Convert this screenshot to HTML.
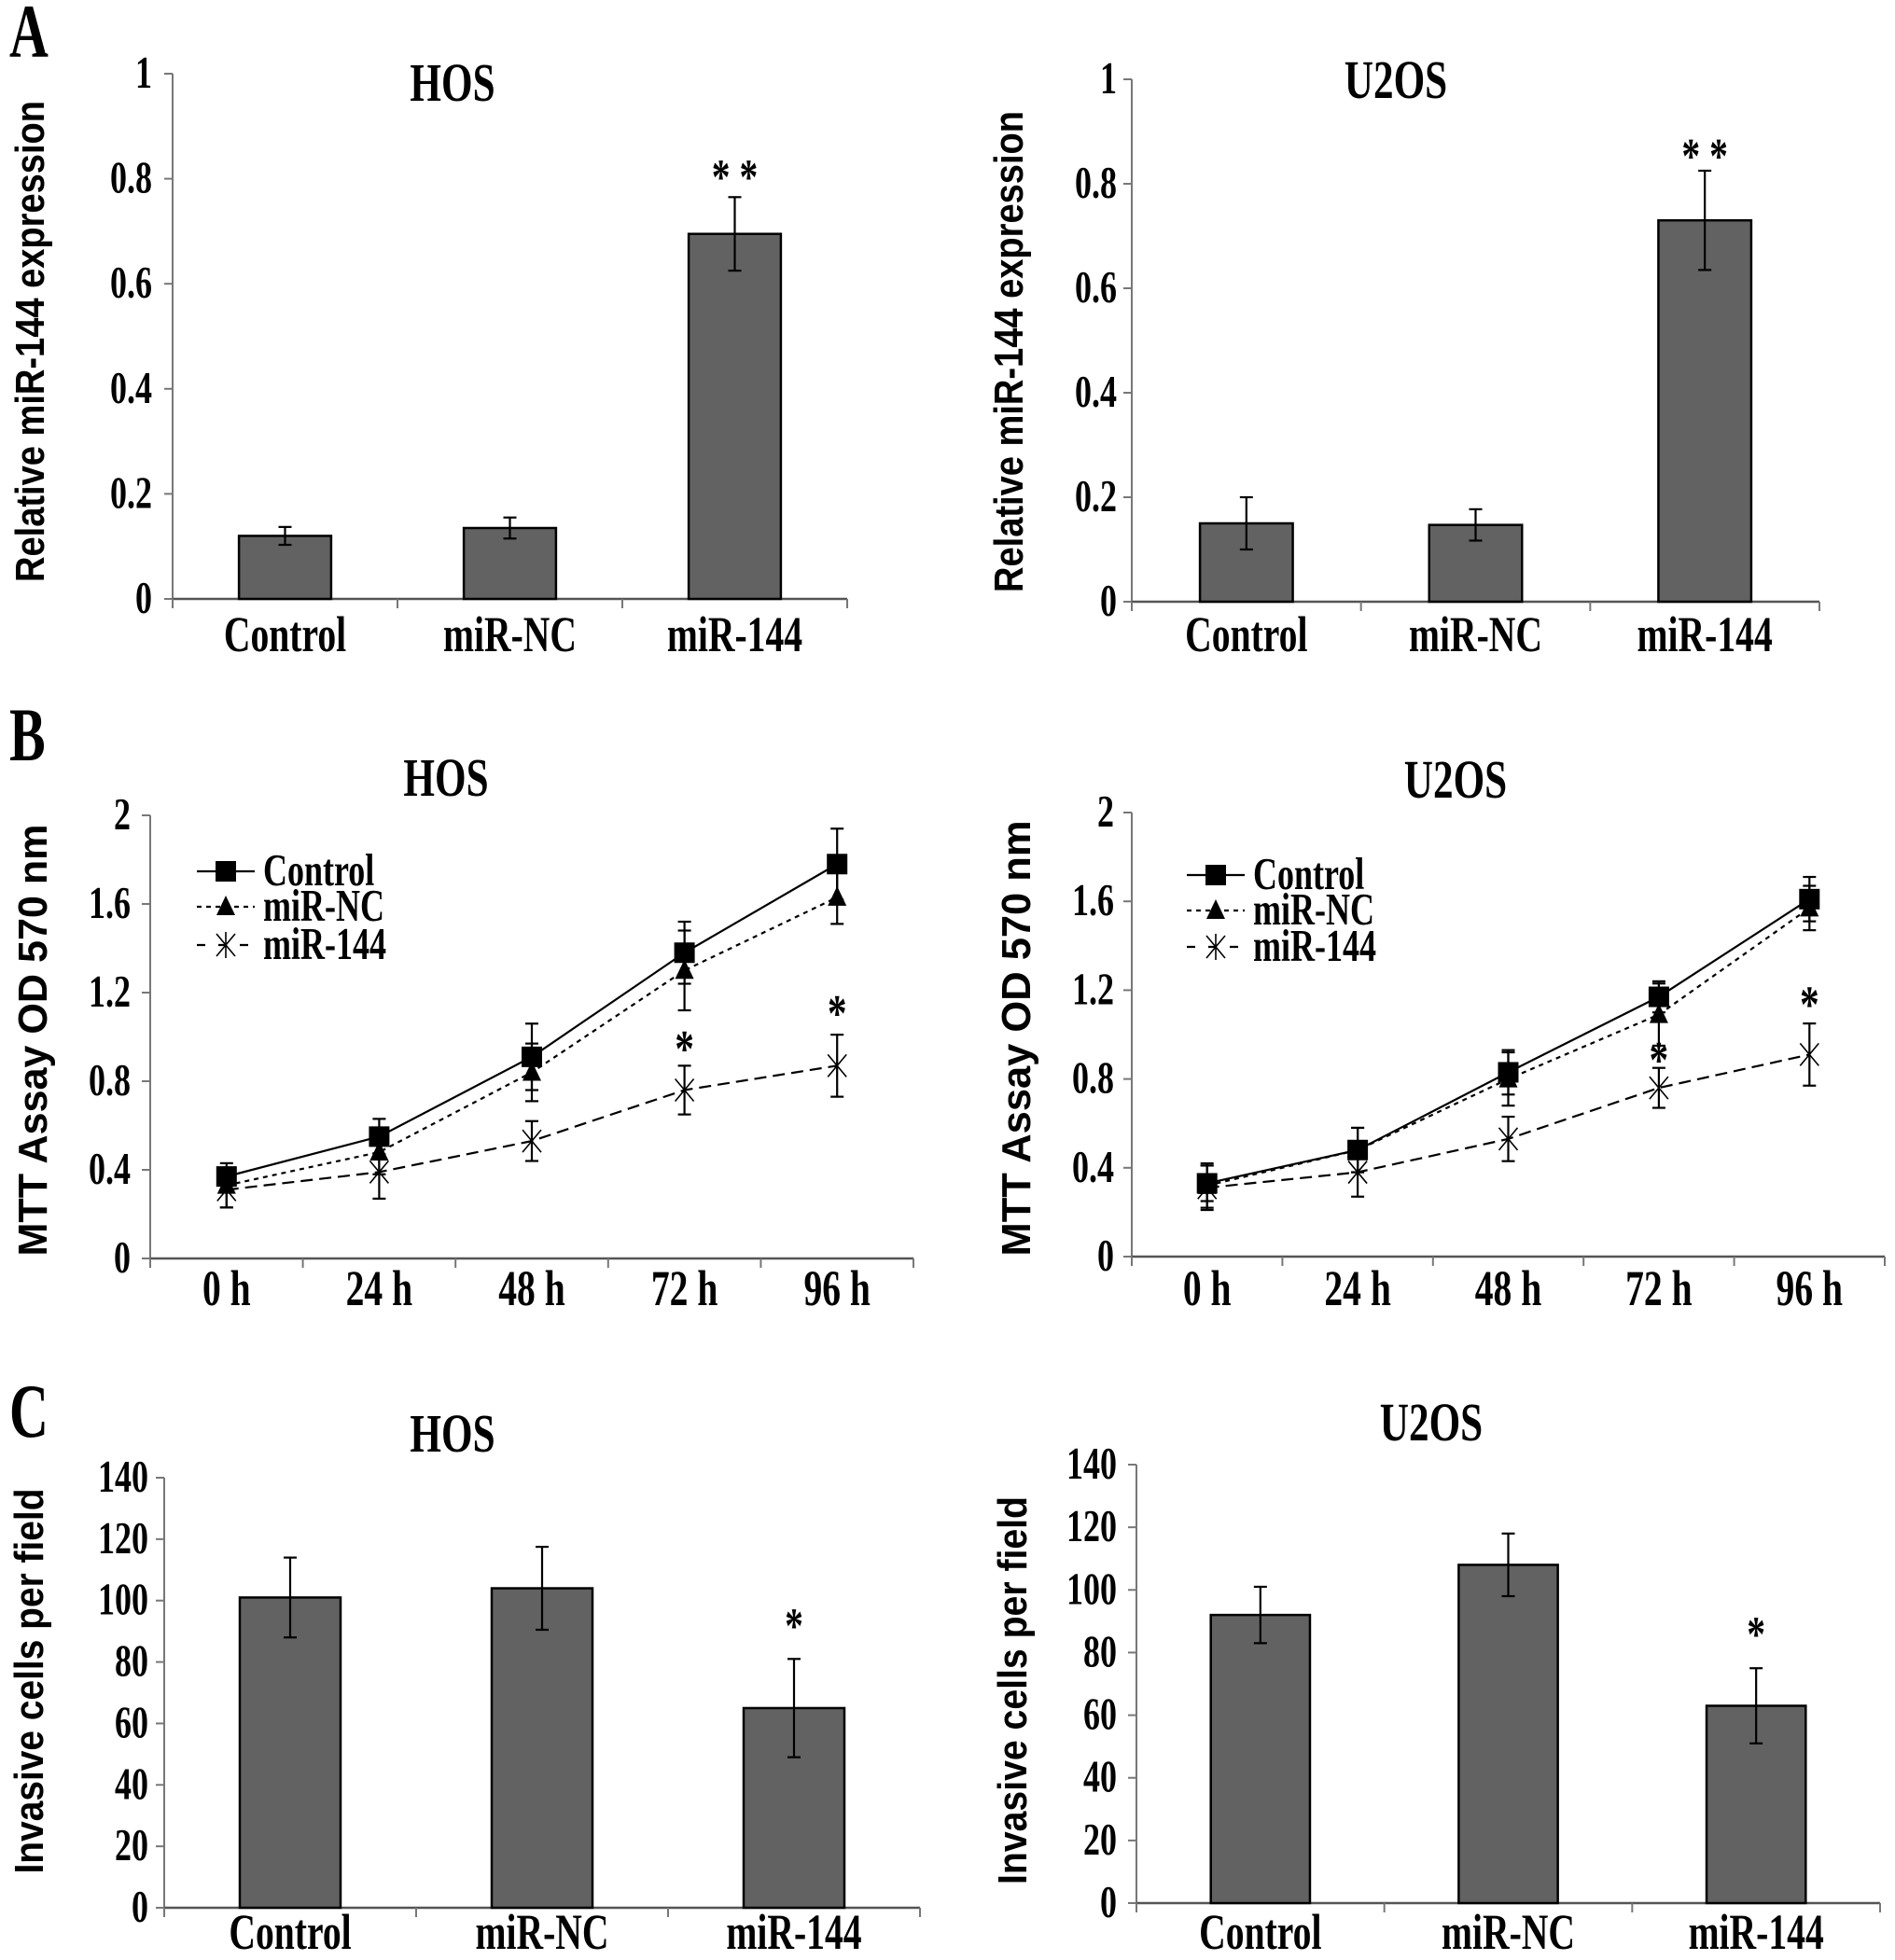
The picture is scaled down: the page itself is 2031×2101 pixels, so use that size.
<!DOCTYPE html>
<html><head><meta charset="utf-8"><style>
html,body{margin:0;padding:0;background:#fff}
svg{display:block}
text{font-family:"Liberation Serif",serif;font-weight:bold;fill:#000}
.yl{font-family:"Liberation Sans",sans-serif;font-weight:bold}
</style></head><body>
<svg id="fig" width="2031" height="2101" viewBox="0 0 2031 2101" xmlns="http://www.w3.org/2000/svg">
<rect width="2031" height="2101" fill="#fff"/>
<text x="10" y="61" font-size="58" class="c big">A</text>
<text x="10" y="815" font-size="58" class="c big">B</text>
<text x="10" y="1540" font-size="58" class="c big">C</text>
</svg>
<script>
// ---- Panel A data ----
const barCats = ["Control","miR-NC","miR-144"];
const aHosVals = [0.12,0.135,0.695];
const aHosErr = [0.017,0.02,0.07];
const aU2Vals = [0.15,0.147,0.73];
const aU2Err = [0.05,0.03,0.095];
const aTicks = ["0","0.2","0.4","0.6","0.8","1"];
// ---- Panel B data ----
const timeCats = ["0 h","24 h","48 h","72 h","96 h"];
const bTicks = ["0","0.4","0.8","1.2","1.6","2"];
const bHosCtrl = [0.37,0.55,0.91,1.38,1.78];
const bHosCtrlErr = [0.03,0.08,0.15,0.14,0.16];
const bHosNC = [0.33,0.48,0.84,1.30,1.63];
const bHosNCErr = [0.1,0.1,0.13,0.18,0.12];
const bHos144 = [0.31,0.39,0.53,0.76,0.87];
const bHos144Err = [0.08,0.12,0.09,0.11,0.14];
const bHosStars = [null,null,null,0.96,1.12];
const bU2Ctrl = [0.33,0.48,0.83,1.17,1.61];
const bU2CtrlErr = [0.08,0.1,0.1,0.07,0.1];
const bU2NC = [0.32,0.48,0.80,1.09,1.57];
const bU2NCErr = [0.1,0.1,0.12,0.14,0.1];
const bU2144 = [0.31,0.38,0.53,0.76,0.91];
const bU2144Err = [0.1,0.11,0.1,0.09,0.14];
const bU2Stars = [null,null,null,0.90,1.15];
// ---- Panel C data ----
const cTicks = ["0","20","40","60","80","100","120","140"];
const cHosVals = [101,104,65];
const cHosErr = [13,13.5,16];
const cU2Vals = [92,108,63];
const cU2Err = [9,10,12];

const NS="http://www.w3.org/2000/svg";
const svg=document.getElementById('fig');
function el(tag,attrs,parent){const e=document.createElementNS(NS,tag);for(const k in attrs)e.setAttribute(k,attrs[k]);(parent||svg).appendChild(e);return e;}
function txt(s,x,y,size,anchor,parent,cls){const t=el('text',{x:x,y:y,'font-size':size,'text-anchor':anchor||'middle','class':cls||'c'},parent);t.textContent=s;return t;}

function axes(g,c,nTicks,tickLabels,ncat){
  const yScale=v=>c.y0-(v-c.min)/(c.max-c.min)*(c.y0-c.y1);
  const ax=el('line',{x1:c.x0,y1:c.y1,x2:c.x0,y2:c.y0,stroke:'#777','stroke-width':2},g);
  
  
  const bx=el('line',{x1:c.x0,y1:c.y0,x2:c.x1,y2:c.y0,stroke:'#555','stroke-width':2.5},g);
  
  
  tickLabels.forEach((lab,i)=>{
    const v=c.min+i*(c.max-c.min)/(tickLabels.length-1);
    const y=yScale(v);
    el('line',{x1:c.x0-9,y1:y,x2:c.x0,y2:y,stroke:'#777','stroke-width':2},g);
    const t=txt(lab,c.tx,y+15,40,'end',g);
    
    
  });
  const w=(c.x1-c.x0)/ncat;
  for(let i=0;i<=ncat;i++){el('line',{x1:c.x0+i*w,y1:c.y0,x2:c.x0+i*w,y2:c.y0+10,stroke:'#777','stroke-width':2},g);}
  const tt=txt(c.title,c.titleX,c.titleY,48,'middle',g);
  
  
  const yl=el('text',{x:0,y:0,'font-size':44,'text-anchor':'middle','class':'yl',transform:`translate(${c.ylX+3},${c.ylY}) rotate(-90)`,textLength:c.ylLen,lengthAdjust:'spacingAndGlyphs'},g);
  yl.textContent=c.ylabel;
  
  
  return {yScale,w};
}
function errBar(g,x,y1,y2){
  el('line',{x1:x,y1:y1,x2:x,y2:y2,stroke:'#000','stroke-width':2.2},g);
  el('line',{x1:x-7,y1:y1,x2:x+7,y2:y1,stroke:'#000','stroke-width':2.2},g);
  el('line',{x1:x-7,y1:y2,x2:x+7,y2:y2,stroke:'#000','stroke-width':2.2},g);
}
function barChart(c,vals,errs,ticks,starIdx,starVal){
  const g=el('g',{});
  
  
  const {yScale,w}=axes(g,c,ticks.length,ticks,barCats.length);
  vals.forEach((v,i)=>{
    const cx=c.x0+w*(i+0.5);
    const bw=w*c.bwf;
    const r=el('rect',{x:cx-bw/2,y:yScale(v),width:bw,height:c.y0-yScale(v),fill:'#626262',stroke:'#000','stroke-width':2.5},g);
    
    
    errBar(g,cx,yScale(v+errs[i]),yScale(v-errs[i]));
    const t=txt(barCats[i],cx,c.catY,44,'middle',g);
    
    
  });
  const sx=c.x0+w*(starIdx+0.5);
  const st=txt(c.star,sx,yScale(starVal)+22,44,'middle',g);
  
  
}
function marker(g,type,x,y){
  if(type==='sq'){el('rect',{x:x-11,y:y-11,width:22,height:22,fill:'#000'},g);}
  else if(type==='tri'){el('polygon',{points:`${x},${y-12} ${x-10},${y+9} ${x+10},${y+9}`,fill:'#000'},g);}
  else{el('path',{d:`M${x-10} ${y-12}L${x+10} ${y+12}M${x+10} ${y-12}L${x-10} ${y+12}M${x} ${y-14}L${x} ${y+14}`,stroke:'#000','stroke-width':1.6,fill:'none'},g);}
}
const seriesStyles=[{m:'sq',dash:'none',name:'Control'},{m:'tri',dash:'5,5',name:'miR-NC'},{m:'x',dash:'13,7',name:'miR-144'}];
function lineChart(c,series,errs,stars){
  const g=el('g',{});
  
  
  const {yScale,w}=axes(g,c,bTicks.length,bTicks,timeCats.length);
  timeCats.forEach((lab,i)=>{
    const t=txt(lab,c.x0+w*(i+0.5),c.catY,44,'middle',g);
    
    
  });
  series.forEach((s,si)=>{
    const st=seriesStyles[si];
    const pts=s.map((v,i)=>`${c.x0+w*(i+0.5)},${yScale(v)}`).join(' ');
    const pl=el('polyline',{points:pts,fill:'none',stroke:'#000','stroke-width':2.2,'stroke-dasharray':st.dash},g);
    
    
    s.forEach((v,i)=>{
      const x=c.x0+w*(i+0.5);
      errBar(g,x,yScale(v+errs[si][i]),yScale(v-errs[si][i]));
      marker(g,st.m,x,yScale(v));
    });
    const ly=c.legY[si];
    el('line',{x1:c.legX,y1:ly,x2:c.legX+62,y2:ly,stroke:'#000','stroke-width':2.2,'stroke-dasharray':st.dash==='none'?'none':(si===1?'5,5':'9,14')},g);
    marker(g,st.m,c.legX+31,ly);
    const lt=txt(st.name,c.legX+71,ly+15,40,'start',g);
    
    
  });
  stars.forEach((v,i)=>{
    if(v===null)return;
    const t=txt('*',c.x0+w*(i+0.5),yScale(v)+22,46,'middle',g);
    
    
  });
}

barChart({name:'chart-a-hos',x0:185,x1:908,y0:642,y1:79,min:0,max:1,tx:163,title:'HOS',titleX:485,titleY:108,ylabel:'Relative miR-144  expression',ylX:44,ylY:366,ylLen:516,catY:698,bwf:0.41,star:'* *'},aHosVals,aHosErr,aTicks,2,0.81);
barChart({name:'chart-a-u2os',x0:1213,x1:1950,y0:645,y1:85,min:0,max:1,tx:1197,title:'U2OS',titleX:1496,titleY:105,ylabel:'Relative miR-144  expression',ylX:1093,ylY:377,ylLen:516,catY:698,bwf:0.405,star:'* *'},aU2Vals,aU2Err,aTicks,2,0.86);
lineChart({name:'chart-b-hos',x0:161,x1:979,y0:1349,y1:874,min:0,max:2,tx:140,title:'HOS',titleX:478,titleY:853,ylabel:'MTT Assay  OD  570 nm',ylX:47,ylY:1115,ylLen:463,catY:1399,legX:211,legY:[934,972,1013]},[bHosCtrl,bHosNC,bHos144],[bHosCtrlErr,bHosNCErr,bHos144Err],bHosStars);
lineChart({name:'chart-b-u2os',x0:1213,x1:2020,y0:1347,y1:871,min:0,max:2,tx:1194,title:'U2OS',titleX:1560,titleY:855,ylabel:'MTT Assay  OD  570 nm',ylX:1101,ylY:1113,ylLen:467,catY:1399,legX:1272,legY:[938,976,1015]},[bU2Ctrl,bU2NC,bU2144],[bU2CtrlErr,bU2NCErr,bU2144Err],bU2Stars);
barChart({name:'chart-c-hos',x0:176,x1:986,y0:2045,y1:1584,min:0,max:140,tx:159,title:'HOS',titleX:485,titleY:1556,ylabel:'Invasive cells per field',ylX:43,ylY:1802,ylLen:413,catY:2089,bwf:0.40,star:'*'},cHosVals,cHosErr,cTicks,2,93);
barChart({name:'chart-c-u2os',x0:1218,x1:2015,y0:2040,y1:1570,min:0,max:140,tx:1197,title:'U2OS',titleX:1534,titleY:1544,ylabel:'Invasive cells per field',ylX:1097,ylY:1812,ylLen:416,catY:2089,bwf:0.40,star:'*'},cU2Vals,cU2Err,cTicks,2,87);

// adjust serif text proportions (reference typeface is tall & slightly narrow)
document.querySelectorAll('text.c').forEach(t=>{
  const big=t.classList.contains('big');
  const L=t.getComputedTextLength();
  if(L>0&&!big){t.setAttribute('textLength',(L*0.9).toFixed(1));t.setAttribute('lengthAdjust','spacingAndGlyphs');}
  const y=parseFloat(t.getAttribute('y'));
  const s=big?1.4:1.22;
  t.setAttribute('transform',`translate(0,${y}) scale(1,${s}) translate(0,${-y})`);
});
</script>
</body></html>
